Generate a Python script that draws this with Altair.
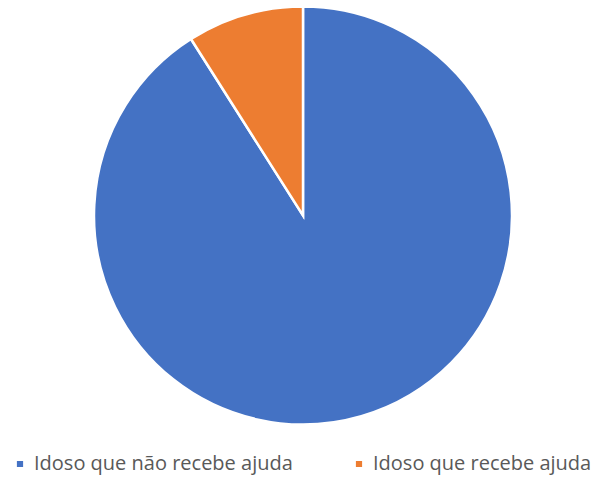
import altair as alt
import pandas as pd

categories = ["Idoso que não recebe ajuda", "Idoso que recebe ajuda"]
values = [91.0, 9.0]
colors = ["#4472C4", "#ED7D31"]

df = pd.DataFrame({"categoria": categories, "valor": values, "ordem": [0, 1]})

chart = alt.Chart(df).mark_arc(stroke="white", strokeWidth=2.5).encode(
    theta=alt.Theta("valor:Q", stack=True),
    order=alt.Order("ordem:Q"),
    color=alt.Color(
        "categoria:N",
        scale=alt.Scale(domain=categories, range=colors),
        sort=categories,
        legend=alt.Legend(
            title=None,
            orient="none",
            direction="horizontal",
            legendX=2,
            legendY=446,
            symbolType="square",
            symbolSize=60,
            labelFontSize=20,
            labelFont="Open Sans",
            labelColor="#595959",
            labelLimit=400,
            columnPadding=56,
            symbolOffset=0,
        ),
    ),
    x=alt.value(295),
    y=alt.value(207.5),
).properties(
    width=584, height=472, padding=0, autosize=alt.AutoSizeParams(type="none")
).configure_arc(outerRadius=209).configure_view(stroke=None)

chart.save("out.html", embed_options={"renderer": "svg", "actions": False})
